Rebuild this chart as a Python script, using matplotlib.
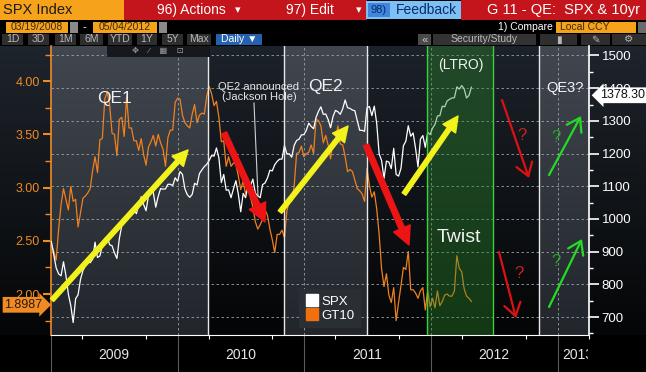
import numpy as np
import pandas as pd
import matplotlib
matplotlib.use('Agg')
import matplotlib.pyplot as plt
import matplotlib.dates as mdates
from matplotlib.colors import LinearSegmentedColormap
from matplotlib.patches import Rectangle
from matplotlib.lines import Line2D
from matplotlib.ticker import MultipleLocator, FormatStrFormatter
from matplotlib.transforms import blended_transform_factory, Bbox

plt.rcParams['font.family'] = ['Liberation Sans', 'DejaVu Sans']

# weekly closes (Fridays, from 2009-01-02)
spx_2009 = [931, 890, 850, 832, 826, 869, 827, 770, 735, 683, 756, 768, 815,
            842, 856, 869, 866, 877, 929, 882, 887, 919, 940, 946, 921, 918,
            896, 879, 940, 979, 987, 1010, 1004, 1026, 1029, 1016, 1042, 1068,
            1044, 1025, 1071, 1087, 1080, 1036, 1069, 1093, 1091, 1092, 1106,
            1106, 1102, 1126, 1115]
spx_2010 = [1145, 1136, 1092, 1074, 1066, 1075, 1109, 1104, 1139, 1150, 1160,
            1167, 1179, 1194, 1192, 1217, 1187, 1111, 1136, 1088, 1089, 1065,
            1092, 1117, 1076, 1022, 1078, 1065, 1102, 1102, 1122, 1079, 1071,
            1065, 1105, 1110, 1125, 1149, 1147, 1166, 1176, 1183, 1183, 1225,
            1199, 1199, 1189, 1225, 1240, 1244, 1257, 1258]
spx_2011 = [1271, 1293, 1283, 1276, 1310, 1329, 1343, 1320, 1321, 1304, 1279,
            1313, 1332, 1328, 1320, 1337, 1364, 1340, 1338, 1333, 1331, 1300,
            1271, 1271, 1268, 1340, 1344, 1316, 1345, 1292, 1199, 1179, 1124,
            1177, 1174, 1154, 1216, 1136, 1131, 1155, 1224, 1238, 1285, 1253,
            1263, 1216, 1159, 1244, 1255, 1219, 1265, 1258]
spx_2012 = [1278, 1289, 1315, 1316, 1345, 1343, 1361, 1366, 1370, 1371, 1404,
            1397, 1408, 1398, 1370, 1378, 1403]

gt10_2009 = [2.46, 2.40, 2.32, 2.61, 2.84, 2.99, 2.89, 2.79, 3.01, 2.87, 2.89,
             2.63, 2.76, 2.90, 2.92, 2.95, 2.99, 3.16, 3.29, 3.14, 3.45, 3.46,
             3.83, 3.90, 3.78, 3.51, 3.50, 3.30, 3.64, 3.66, 3.48, 3.85, 3.56,
             3.56, 3.44, 3.44, 3.35, 3.46, 3.31, 3.21, 3.38, 3.43, 3.49, 3.39,
             3.50, 3.42, 3.36, 3.20, 3.47, 3.54, 3.54, 3.80, 3.84]
gt10_2010 = [3.83, 3.68, 3.61, 3.58, 3.56, 3.69, 3.78, 3.61, 3.68, 3.70, 3.69,
             3.86, 3.95, 3.88, 3.77, 3.81, 3.66, 3.43, 3.44, 3.20, 3.29, 3.20,
             3.23, 3.22, 3.11, 2.98, 3.06, 2.94, 3.01, 2.91, 2.82, 2.68, 2.61,
             2.65, 2.70, 2.79, 2.74, 2.61, 2.51, 2.39, 2.56, 2.56, 2.60, 2.53,
             2.78, 2.88, 2.87, 3.01, 3.32, 3.33, 3.39, 3.29]
gt10_2011 = [3.32, 3.33, 3.40, 3.32, 3.64, 3.63, 3.58, 3.42, 3.49, 3.40, 3.27,
             3.44, 3.45, 3.58, 3.41, 3.40, 3.29, 3.15, 3.17, 3.15, 3.07, 2.99,
             2.97, 2.94, 2.87, 3.18, 3.02, 2.91, 2.96, 2.80, 2.56, 2.24, 2.07,
             2.19, 1.99, 1.92, 2.06, 1.75, 1.92, 2.08, 2.25, 2.23, 2.40, 2.04,
             2.04, 2.01, 1.96, 2.03, 2.06, 1.85, 2.03, 1.88]
gt10_2012 = [1.96, 1.87, 2.03, 1.89, 1.93, 1.99, 2.00, 1.98, 1.98, 2.03, 2.36,
             2.24, 2.21, 2.05, 1.98, 1.96, 1.93]

spx = spx_2009 + spx_2010 + spx_2011 + spx_2012
gt10 = gt10_2009 + gt10_2010 + gt10_2011 + gt10_2012
dates = pd.date_range('2009-01-02', periods=len(spx), freq='7D')

spx_last = 1378.30
gt10_last = 1.8987

# background periods
periods = [('2009-01-01', '2010-03-31', 'qe'),
           ('2010-03-31', '2010-11-03', 'off'),
           ('2010-11-03', '2011-06-30', 'qe'),
           ('2011-06-30', '2012-11-07', 'off'),
           ('2012-11-07', '2013-04-01', 'qe')]
qe_edges = ['2010-03-31', '2010-11-03', '2011-06-30', '2012-11-07']
ltro = ('2011-12-21', '2012-06-29')
years = [2009, 2010, 2011, 2012, 2013]
year_label_pos = ['2009-07-02', '2010-07-02', '2011-07-02', '2012-07-02', '2013-03-01']

W, H = 646, 372
d = lambda s: mdates.date2num(pd.Timestamp(s))

fig = plt.figure(figsize=(W / 100, H / 100), dpi=100, facecolor='black')

# side panels behind the axis labels
bg = fig.add_axes([0, 0, 1, 1], zorder=-5)
bg.axis('off')
grad = np.linspace(1, 0, 64).reshape(-1, 1)
side = LinearSegmentedColormap.from_list('side', ['#050607', '#1e242c'])
bg.imshow(grad, extent=[0, 51, 335, 46], cmap=side, aspect='auto')
bg.imshow(grad, extent=[589, W, 335, 46], cmap=side, aspect='auto')
bg.set_xlim(0, W)
bg.set_ylim(H, 0)

ax = fig.add_axes([51 / W, (H - 335) / H, 538 / W, 289 / H])
ax.patch.set_visible(False)
gt_lo, gt_hi = 1.615, 4.33
cm_qe = LinearSegmentedColormap.from_list('qe', ['#22262c', '#41474f'])
cm_off = LinearSegmentedColormap.from_list('off', ['#040506', '#1c222a'])
for s, e, kind in periods:
    ax.imshow(grad, extent=[d(s), d(e), gt_lo, gt_hi],
              cmap=cm_qe if kind == 'qe' else cm_off, aspect='auto', zorder=0)

ax.plot(dates, gt10, color='#f0801e', lw=0.9, zorder=2)
ax.set_xlim(d('2009-01-01'), d('2013-04-01'))
ax.set_ylim(gt_lo, gt_hi)

ax2 = ax.twinx()
ax2.set_ylim(645, 1529)
for v in range(700, 1600, 100):
    ax2.axhline(v, color='#9aa0a8', lw=0.6, ls=(0, (3, 3)), zorder=1)
for y in years[1:]:
    ax2.axvline(d(f'{y}-01-01'), color='#9aa0a8', lw=0.6, ls=(0, (3, 3)), zorder=1)
ax2.plot(dates, spx, color='white', lw=0.9, zorder=2)
for e in qe_edges:
    ax2.axvline(d(e), color='#e8e8e8', lw=1.0, zorder=4)
ax2.axvspan(d(ltro[0]), d(ltro[1]), color='#2c8c2c', alpha=0.38, lw=0, zorder=3)
for e in ltro:
    ax2.axvline(d(e), color='#3ad23a', lw=1.0, zorder=4)

# left axis (GT10)
orange = '#f08a24'
ax.yaxis.set_major_locator(MultipleLocator(0.5))
ax.yaxis.set_minor_locator(MultipleLocator(0.25))
ax.yaxis.set_major_formatter(FormatStrFormatter('%.2f'))
ax.tick_params(axis='y', which='major', colors=orange, length=6, width=1.5,
               labelsize=9, pad=2)
ax.tick_params(axis='y', which='minor', colors=orange, length=4, width=1)
for sp in ['top', 'right']:
    ax.spines[sp].set_visible(False)
ax.spines['left'].set_color(orange)
ax.spines['left'].set_linewidth(1.2)
ax.spines['bottom'].set_color('white')

# right axis (SPX)
ax2.yaxis.set_major_locator(MultipleLocator(100))
ax2.yaxis.set_minor_locator(MultipleLocator(50))
ax2.tick_params(axis='y', which='major', colors='white', length=7, width=1.2,
                labelsize=9.5, pad=2)
ax2.tick_params(axis='y', which='minor', colors='white', length=3, width=1)
for sp in ['top', 'left', 'bottom']:
    ax2.spines[sp].set_visible(False)
ax2.spines['right'].set_color('white')
ax2.spines['right'].set_linewidth(1.2)

# time axis
ax.xaxis.set_major_locator(mdates.YearLocator())
ax.xaxis.set_minor_locator(mdates.MonthLocator(bymonth=[4, 10]))
ax.xaxis.set_major_formatter(plt.NullFormatter())
ax.tick_params(axis='x', which='major', colors='#5a5a5a', length=27, width=0.8)
ax.tick_params(axis='x', which='minor', colors='white', length=3, width=0.8)
tr = blended_transform_factory(ax.transData, ax.transAxes)
for y, pos in zip(years, year_label_pos):
    t = ax.text(d(pos), -0.069, str(y), transform=tr, ha='center', va='center',
                color='#e6e6e6', fontsize=10, clip_on=True)
    t.set_clip_box(Bbox.from_extents(0, 0, 588, H))

# legend
handles = [Line2D([], [], marker='s', ls='', color='white', markersize=9),
           Line2D([], [], marker='s', ls='', color='#f07010', markersize=9)]
leg = ax2.legend(handles, ['SPX', 'GT10'], loc='lower left',
                 bbox_to_anchor=((292 - 51) / 538, 0.0), frameon=True,
                 facecolor='#2a2f36', edgecolor='none', framealpha=1,
                 fancybox=False, fontsize=9.5, labelcolor='white',
                 handletextpad=0.2, borderpad=0.5, labelspacing=0.15,
                 handlelength=1.0)
leg.set_zorder(6)

# last value tags
ax.annotate(f'{gt10_last:.4f}', xy=(0, gt10_last),
            xycoords=('axes fraction', 'data'), xytext=(-6, 0),
            textcoords='offset points', ha='right', va='center', fontsize=9,
            color='#2a1a08', annotation_clip=False,
            bbox=dict(boxstyle='rarrow,pad=0.15', fc=orange, ec='none'))
ax2.annotate(f'{spx_last:.2f}', xy=(1, spx_last),
             xycoords=('axes fraction', 'data'), xytext=(8, 0),
             textcoords='offset points', ha='left', va='center', fontsize=9,
             color='#111111', annotation_clip=False,
             bbox=dict(boxstyle='larrow,pad=0.15', fc='white', ec='none'))

# overlay in pixel coordinates: header bars and chart notes
ov = fig.add_axes([0, 0, 1, 1], zorder=10)
ov.set_xlim(0, W)
ov.set_ylim(H, 0)
ov.axis('off')


def box(x, y, w, h, color):
    ov.add_patch(Rectangle((x, y), w, h, color=color, lw=0))


def label(x, y, s, color, size, ha='left', **kw):
    ov.text(x, y, s, color=color, fontsize=size, ha=ha, va='center', **kw)


red = '#c4141c'
box(0, 0, 124, 20, '#f7a21b')
label(3, 10, 'SPX Index', '#1a1a1a', 10.5)
box(124, 0, 243, 20, red)
label(157, 10, '96) Actions', 'white', 10)
label(235, 10, '▾', 'white', 8)
label(286, 10, '97) Edit', 'white', 10)
label(356, 10, '▾', 'white', 8)
box(366, 1, 95, 18, '#7cc0f6')
box(368, 3, 22, 14, '#3f86dc')
label(379, 10, '98)', '#0c2a66', 8, ha='center')
label(396, 10, 'Feedback', '#0c2a66', 10)
box(461, 0, 185, 20, red)
label(640, 10, 'G 11 - QE:  SPX & 10yr', 'white', 10.5, ha='right')

box(6, 22, 62, 11, '#f7a21b')
label(37, 27.5, '03/19/2008', '#3a2a10', 7.5, ha='center')
box(70, 22, 8, 11, '#8a8a8a')
label(84, 27.5, '-', 'white', 8, ha='center')
box(93, 22, 64, 11, '#f7a21b')
label(125, 27.5, '05/04/2012', '#3a2a10', 7.5, ha='center')
box(159, 22, 8, 11, '#8a8a8a')
label(498, 27.5, '1) Compare', 'white', 7.5)
box(556, 22, 80, 11, '#f7a21b')
label(560, 27.5, 'Local CCY', '#3a2a10', 7.5)
box(638, 22, 8, 11, '#6a6a6a')

buttons = [('1D', 2, 23), ('3D', 28, 49), ('1M', 55, 76), ('6M', 80, 103),
           ('YTD', 108, 132), ('1Y', 137, 157), ('5Y', 162, 183), ('Max', 187, 211)]
for txt, x0, x1 in buttons:
    box(x0, 34, x1 - x0, 11, '#2e2e2e')
    label((x0 + x1) / 2, 39.5, txt, '#b8b8b8', 7.5, ha='center')
box(216, 34, 46, 11, '#2462b0')
label(239, 39.5, 'Daily ▼', 'white', 7.5, ha='center')
box(418, 34, 13, 11, '#4a4a4a')
label(424.5, 39.5, '«', '#cccccc', 8, ha='center')
box(433, 34, 103, 11, '#333333')
label(484, 39.5, 'Security/Study', '#b8b8b8', 7.5, ha='center')
for x0, w, g in [(540, 37, '▮'), (581, 29, '✎'), (612, 34, '⚙')]:
    box(x0, 34, w, 11, '#2e2e2e')
    label(x0 + w / 2, 39.5, g, '#b8b8b8', 7.5, ha='center')
box(107, 46, 103, 11, '#15181c')
label(158, 51.5, '✥    ⁄    ▦    ⊡', '#9a9a9a', 6, ha='center')

# notes on the chart
label(115, 98, 'QE1', '#f2f2f2', 12.5, ha='center')
label(259, 92, 'QE2 announced\n(Jackson Hole)', '#e6e6e6', 8, ha='center',
      linespacing=1.1)
ov.plot([254, 258], [103, 196], color='#cfcfcf', lw=0.8)
label(325, 87, 'QE2', '#f2f2f2', 12.5, ha='center')
label(461, 65, '(LTRO)', '#f2f2f2', 10, ha='center')
label(459, 238, 'Twist', '#f2f2f2', 14, ha='center')
label(565, 88, 'QE3?', '#f2f2f2', 10.5, ha='center')


def thick(tail, head, color, w=3.2, hw=11, hl=11):
    ov.annotate('', xy=head, xytext=tail,
                arrowprops=dict(width=w, headwidth=hw, headlength=hl,
                                color=color, shrink=0))


def thin(tail, head, color):
    ov.annotate('', xy=head, xytext=tail,
                arrowprops=dict(arrowstyle='->,head_length=0.45,head_width=0.3',
                                lw=1.6, color=color, mutation_scale=20,
                                shrinkA=0, shrinkB=0))


yellow = '#f2f21c'
thick((52, 300), (188, 150), yellow)
thick((280, 212), (348, 126), yellow)
thick((404, 194), (458, 116), yellow)
thick((224, 133), (265, 222), '#ec1414', w=4, hw=13, hl=13)
thick((366, 145), (409, 245), '#ec1414', w=4, hw=13, hl=13)

thin((502, 100), (529, 178), '#dd1111')
thin((499, 252), (516, 318), '#dd1111')
thin((549, 175), (581, 116), '#22dd22')
thin((549, 307), (582, 239), '#22dd22')
label(522, 135, '?', '#cc2222', 12, ha='center')
label(519, 273, '?', '#cc2222', 12, ha='center')
label(556, 138, '?', '#22aa22', 12, ha='center')
label(556, 262, '?', '#22aa22', 12, ha='center')

fig.savefig('out.png', dpi=100, facecolor='black')
